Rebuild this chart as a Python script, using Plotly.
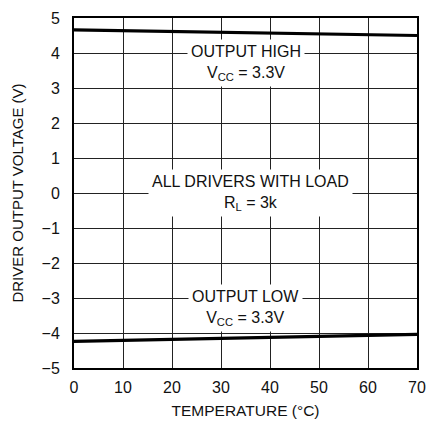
import plotly.graph_objects as go

# Driver output voltage vs temperature
temperature = [0, 70]
output_high = [4.66, 4.50]
output_low = [-4.24, -4.04]

x_ticks = [0, 10, 20, 30, 40, 50, 60, 70]
y_ticks = [-5, -4, -3, -2, -1, 0, 1, 2, 3, 4, 5]

FONT = "Liberation Sans Narrow, Arial Narrow, Liberation Sans, sans-serif"

fig = go.Figure()
fig.add_trace(go.Scatter(x=temperature, y=output_high, mode="lines",
                         line=dict(color="black", width=3.2), showlegend=False))
fig.add_trace(go.Scatter(x=temperature, y=output_low, mode="lines",
                         line=dict(color="black", width=3.2), showlegend=False))

notes = [
    (35, 3.72, "OUTPUT HIGH<br>V<sub>CC</sub> = 3.3V"),
    (36, 0.0, "ALL DRIVERS WITH LOAD<br>R<sub>L</sub> = 3k"),
    (35, -3.28, "OUTPUT LOW<br>V<sub>CC</sub> = 3.3V"),
]
for x, y, t in notes:
    fig.add_annotation(x=x, y=y, text=t, showarrow=False, bgcolor="white",
                       borderpad=3, align="center",
                       font=dict(family=FONT, size=16, color="#111"))

axis_common = dict(showgrid=True, gridcolor="#222", gridwidth=1,
                   showline=True, linecolor="black", linewidth=2, mirror=True,
                   zeroline=False, ticks="outside", tickcolor="rgba(0,0,0,0)",
                   tickfont=dict(family=FONT, size=16, color="#111"))

fig.update_xaxes(range=[0, 70], tickvals=x_ticks, ticklen=4,
                 title=dict(text="TEMPERATURE (°C)", font=dict(family=FONT, size=15.5, color="#111"), standoff=10),
                 **axis_common)
fig.update_yaxes(range=[-5, 5], tickvals=y_ticks, ticklen=9,
                 title=dict(text="DRIVER OUTPUT VOLTAGE (V)", font=dict(family=FONT, size=15, color="#111"), standoff=14),
                 **axis_common)

fig.update_layout(width=435, height=426, margin=dict(l=74, r=9, t=18, b=57),
                  plot_bgcolor="white", paper_bgcolor="white")

fig.write_html("out.html")
